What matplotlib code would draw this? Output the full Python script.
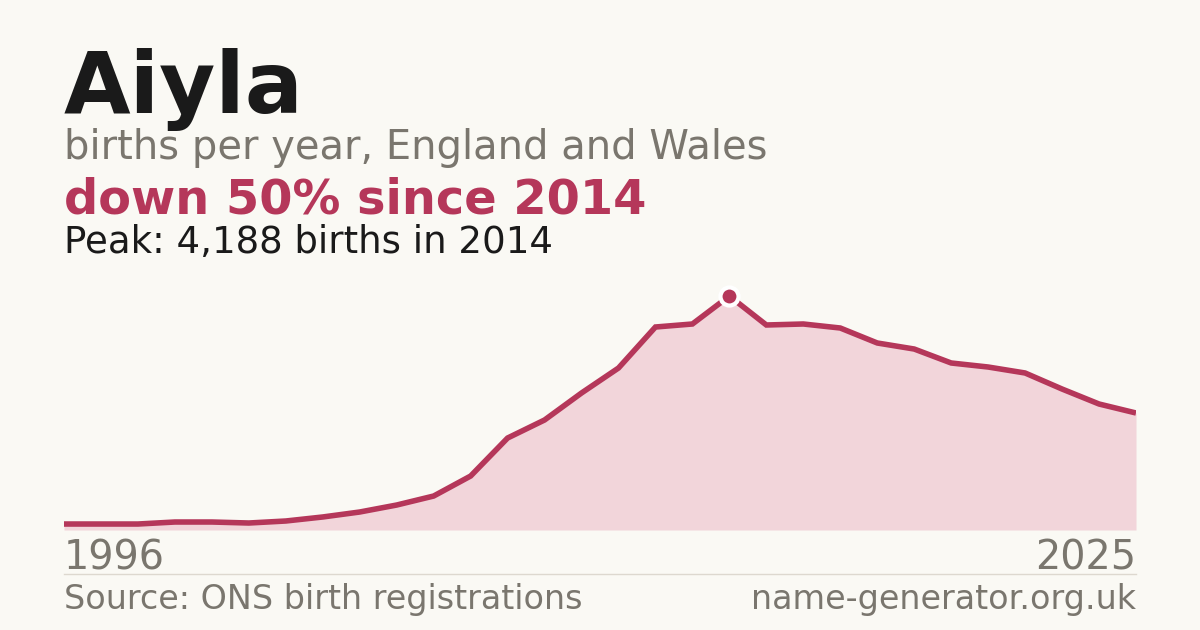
import matplotlib.pyplot as plt
from matplotlib.lines import Line2D

# data
years = list(range(1996, 2026))
births = [107, 107, 107, 143, 143, 125, 161, 233, 322, 447,
          608, 966, 1646, 1969, 2452, 2899, 3633, 3687, 4188, 3669,
          3687, 3615, 3347, 3239, 2989, 2917, 2810, 2523, 2255, 2094]

name = "Aiyla"
subtitle = "births per year, England and Wales"
change_text = "down 50% since 2014"
peak_text = "Peak: 4,188 births in 2014"
source_text = "Source: ONS birth registrations"
site_text = "name-generator.org.uk"

BG = "#faf9f4"
DARK = "#1a1a1a"
GREY = "#7a766e"
RED = "#b5375a"
FILL = "#f2d5da"

W, H = 1200, 630
fig = plt.figure(figsize=(W / 100, H / 100), dpi=100, facecolor=BG)

# plot area: x 64..1136 px, baseline at y=530 px, top at y=280 px
left, right, bottom, top = 64, 1136, 530, 280
ax = fig.add_axes([left / W, 1 - bottom / H, (right - left) / W, (bottom - top) / H])
ax.set_facecolor(BG)
ax.fill_between(years, births, 0, color=FILL, lw=0)
ax.plot(years, births, color=RED, lw=4.0, solid_capstyle="butt", solid_joinstyle="miter")
peak_i = births.index(max(births))
ax.plot(years[peak_i], births[peak_i], "o", ms=13, color=RED, mec="white", mew=3, zorder=5)
ax.set_xlim(years[0], years[-1])
ax.set_ylim(0, max(births) * (bottom - top) / (bottom - 296))
ax.axis("off")

# header text
fig.text(left / W, 1 - 113 / H, name, fontsize=62, fontweight="bold", color=DARK, va="baseline")
fig.text(left / W, 1 - 159 / H, subtitle, fontsize=28.8, color=GREY, va="baseline")
fig.text(left / W, 1 - 214 / H, change_text, fontsize=34.5, fontweight="bold", color=RED, va="baseline")
fig.text(left / W, 1 - 253 / H, peak_text, fontsize=26.7, color=DARK, va="baseline")

# axis end labels
fig.text(left / W, 1 - 570 / H, str(years[0]), fontsize=28.6, color=GREY, va="baseline")
fig.text(right / W, 1 - 570 / H, str(years[-1]), fontsize=28.6, color=GREY, va="baseline", ha="right")

# separator and footer
fig.add_artist(Line2D([left / W, right / W], [1 - 574 / H, 1 - 574 / H], color="#ddd8cf", lw=1))
fig.text(left / W, 1 - 609 / H, source_text, fontsize=24, color=GREY, va="baseline")
fig.text(right / W, 1 - 609 / H, site_text, fontsize=24, color=GREY, va="baseline", ha="right")

fig.savefig("out.png", dpi=100, facecolor=BG)
